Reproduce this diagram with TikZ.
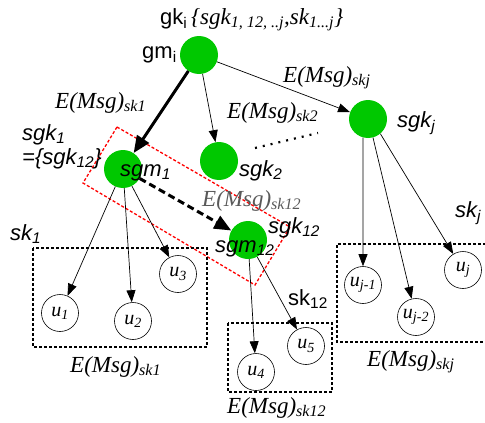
\documentclass[tikz,border=0pt]{standalone}
\usepackage{fontspec}
\setmainfont{Liberation Serif}
\newfontfamily\arial{Liberation Sans}
\usetikzlibrary{arrows.meta}
\definecolor{keygreen}{RGB}{0,200,0}
\tikzset{
  keynode/.style={circle, fill=keygreen, minimum size=38pt, inner sep=0pt},
  usernode/.style={circle, draw, line width=0.6pt, minimum size=37pt, inner sep=0pt, font=\fontsize{20}{22}\selectfont\itshape},
  sanslabel/.style={font=\arial\fontsize{22}{24}\selectfont, inner sep=0pt},
  slantlabel/.style={font=\arial\itshape\fontsize{22}{24}\selectfont, inner sep=0pt},
  msglabel/.style={font=\fontsize{23}{25}\selectfont\itshape, inner sep=0pt},
  link/.style={-{Triangle[length=12pt,width=9pt]}, line width=0.7pt},
  boldlink/.style={-{Triangle[length=17pt,width=14pt]}, line width=3pt},
  groupbox/.style={dash pattern=on 3pt off 2pt, line width=1.3pt},
}

\begin{document}
\begin{tikzpicture}[x=1pt,y=-1pt]
  \useasboundingbox (0,0) rectangle (485,423);

  % group boxes
  \draw[red, groupbox] (117,127) -- (290,227) -- (255,285) -- (83,183) -- cycle;
  \draw[groupbox] (33,248) rectangle (207,347);
  \draw[groupbox] (228,323) rectangle (332,392);
  \draw[groupbox] (486,244) -- (337,244) -- (337,342) -- (486,342);

  % key nodes
  \node[keynode] (gmi)   at (199, 55) {};
  \node[keynode] (sgm1)  at (123,169) {};
  \node[keynode] (sgk2)  at (219,161) {};
  \node[keynode] (sgkj)  at (368,119) {};
  \node[keynode] (sgm12) at (248,240) {};

  % users
  \node[usernode] (u1)  at ( 60,313) {u\textsubscript{1}};
  \node[usernode] (u2)  at (133,321) {u\textsubscript{2}};
  \node[usernode] (u3)  at (178,274) {u\textsubscript{3}};
  \node[usernode] (u4)  at (256,372) {u\textsubscript{4}};
  \node[usernode] (u5)  at (306,346) {u\textsubscript{5}};
  \node[usernode] (uj1) at (363,285) {u\textsubscript{j-1}};
  \node[usernode] (uj2) at (416,317) {u\textsubscript{j-2}};
  \node[usernode] (uj)  at (463,270) {u\textsubscript{j}};

  % links
  \draw[boldlink] (gmi) -- (sgm1);
  \draw[boldlink, dash pattern=on 7pt off 4pt] (sgm1) -- (sgm12);
  \draw[link] (gmi) -- (sgk2);
  \draw[link] (gmi) -- (sgkj);
  \draw[link] (sgm1) -- (u1);
  \draw[link] (sgm1) -- (u2);
  \draw[link] (sgm1) -- (u3);
  \draw[link] (sgm12) -- (u4);
  \draw[link] (sgm12) -- (u5);
  \draw[link] (sgkj.255) -- (uj1);
  \draw[link] (sgkj.285) -- (uj2);
  \draw[link] (sgkj.310) -- (uj);
  \coordinate (dotsa) at (255,148);
  \coordinate (dotsb) at (318,133);
  \draw[line width=2.2pt, dash pattern=on 2pt off 6pt] (dotsa) -- (dotsb);

  % labels
  \node[sanslabel, anchor=base west] (gkilab) at (160,24)
    {gk\textsubscript{i}\,{\rmfamily\itshape\fontsize{23}{25}\selectfont\{sgk\textsubscript{1, 12, ..j},sk\textsubscript{1...j}\}}};
  \node[sanslabel, anchor=base west] (gmilab) at (142,58) {gm\textsubscript{i}};
  \node[slantlabel, anchor=base west] (sgkjlab) at (397,127) {sgk\textsubscript{j}};
  \node[slantlabel, anchor=base west] (sgk2lab) at (239,176) {sgk\textsubscript{2}};
  \node[slantlabel, anchor=base west, align=left] (sgk1lab) at (22,164)
    {sgk\textsubscript{1}\\=\{sgk\textsubscript{12}\}};
  \node[slantlabel, anchor=base west] (sgm1lab) at (120,176) {sgm\textsubscript{1}};
  \node[slantlabel, anchor=base west] (sgk12lab) at (268,233) {sgk\textsubscript{12}};
  \node[slantlabel, anchor=base west] (sgm12lab) at (215,252) {sgm\textsubscript{12}};
  \node[slantlabel, anchor=base west] (sk1lab) at (10,240) {sk\textsubscript{1}};
  \node[slantlabel, anchor=base west] (skjlab) at (455,217) {sk\textsubscript{j}};
  \node[sanslabel, anchor=base west] (sk12lab) at (288,305) {sk\textsubscript{12}};

  \node[msglabel, anchor=base west] (msgskj) at (283,82) {E(Msg)\textsubscript{skj}};
  \node[msglabel, anchor=base west] (msgsk1) at (55,108) {E(Msg)\textsubscript{sk1}};
  \node[msglabel, anchor=base west] (msgsk2) at (227,118) {E(Msg)\textsubscript{sk2}};
  \node[msglabel, anchor=base west, text=black!65] (msgsk12) at (202,206) {E(Msg)\textsubscript{sk12}};
  \node[msglabel, anchor=base west] (msgboxa) at (70,372) {E(Msg)\textsubscript{sk1}};
  \node[msglabel, anchor=base west] (msgboxb) at (227,413) {E(Msg)\textsubscript{sk12}};
  \node[msglabel, anchor=base west] (msgboxc) at (367,366) {E(Msg)\textsubscript{skj}};
\end{tikzpicture}
\end{document}
